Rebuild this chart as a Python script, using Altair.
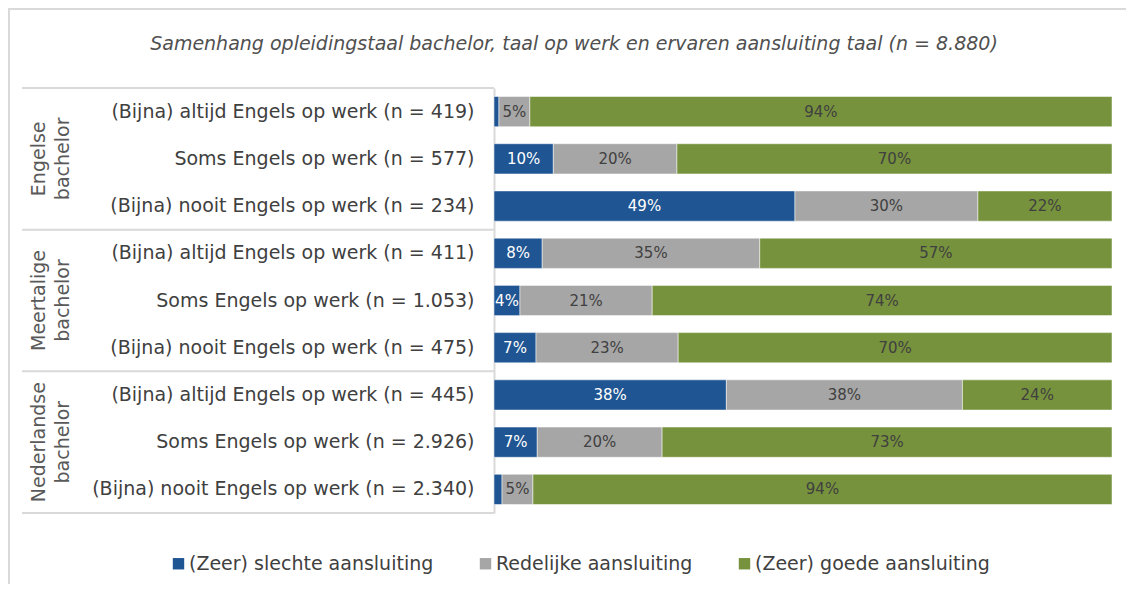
import altair as alt
import pandas as pd

title_text = "Samenhang opleidingstaal bachelor, taal op werk en ervaren aansluiting taal (n = 8.880)"

groups = ["Engelse\nbachelor", "Meertalige\nbachelor", "Nederlandse\nbachelor"]
rows = [
    "(Bijna) altijd Engels op werk (n = 419)",
    "Soms Engels op werk (n = 577)",
    "(Bijna) nooit Engels op werk (n = 234)",
    "(Bijna) altijd Engels op werk (n = 411)",
    "Soms Engels op werk (n = 1.053)",
    "(Bijna) nooit Engels op werk (n = 475)",
    "(Bijna) altijd Engels op werk (n = 445)",
    "Soms Engels op werk (n = 2.926)",
    "(Bijna) nooit Engels op werk (n = 2.340)",
]
categories = ["(Zeer) slechte aansluiting", "Redelijke aansluiting", "(Zeer) goede aansluiting"]
colors = ["#1f5592", "#a6a6a6", "#76923c"]

slecht = [0.8, 9.6, 48.7, 7.8, 4.2, 6.8, 37.6, 7.0, 1.3]
redelijk = [5.0, 20.0, 29.6, 35.2, 21.4, 23.0, 38.2, 20.2, 5.0]
goed = [94.2, 70.4, 21.7, 57.0, 74.4, 70.2, 24.2, 72.8, 93.7]

FONT = "DejaVu Sans"
TXT = "#404040"
LINE = "#d9d9d9"

W, H = 618, 425
PAD_L, PAD_T, PAD_R, PAD_B = 486, 80, 14, 71

recs = []
for i, r in enumerate(rows):
    for k, (c, vals) in enumerate(zip(categories, [slecht, redelijk, goed])):
        recs.append({"row": r, "category": c, "order": k, "value": vals[i]})
df = pd.DataFrame(recs)

ybar = alt.Y("row:N", sort=rows,
             scale=alt.Scale(paddingInner=0.36, paddingOuter=0.18),
             axis=alt.Axis(title=None, labelFontSize=19, labelFont=FONT, labelColor=TXT,
                           labelPadding=20, ticks=False, domainColor=LINE, domainWidth=2,
                           labelLimit=600, grid=False))

bars = alt.Chart(df).mark_bar(stroke="white", strokeWidth=0.5).encode(
    x=alt.X("value:Q", stack="zero", scale=alt.Scale(domain=[0, 100]), axis=None),
    y=ybar,
    color=alt.Color("category:N", sort=categories,
                    scale=alt.Scale(domain=categories, range=colors),
                    legend=alt.Legend(title=None, orient="none", direction="horizontal",
                                      legendX=-325, legendY=466,
                                      labelFont=FONT, labelFontSize=19, labelColor=TXT,
                                      labelLimit=600,
                                      symbolType="square", symbolSize=130,
                                      symbolStrokeWidth=0, labelOffset=1,
                                      columnPadding=42)),
    order=alt.Order("order:Q"),
)

labels = alt.Chart(df).transform_stack(
    stack="value", groupby=["row"], as_=["x0", "x1"],
    sort=[alt.SortField("order", order="ascending")]
).transform_calculate(
    mid="(datum.x0 + datum.x1) / 2",
    label="format(datum.value, '.0f') + '%'"
).transform_filter("datum.value >= 2").mark_text(
    font=FONT, fontSize=15, baseline="middle", align="center"
).encode(
    x=alt.X("mid:Q", scale=alt.Scale(domain=[0, 100]), axis=None),
    y=alt.Y("row:N", sort=rows),
    text="label:N",
    color=alt.condition(alt.datum.order == 0, alt.value("white"), alt.value(TXT)),
)

main = alt.layer(bars, labels)

# group separators and group labels on a quantitative row-index scale
sep_df = pd.DataFrame({"pos": [0, 3, 6, 9]})
grp_df = pd.DataFrame({"group": groups, "pos": [1.5, 4.5, 7.5]})
yq = alt.Scale(domain=[0, 9], reverse=True, nice=False, zero=False)

seps = alt.Chart(sep_df).mark_rule(color=LINE, strokeWidth=2).encode(
    y=alt.Y("pos:Q", scale=yq, axis=None),
    x=alt.value(-472), x2=alt.value(0),
)
grp = alt.Chart(grp_df).mark_text(
    font=FONT, fontSize=19, color="#595959", angle=270, lineBreak="\n",
    align="center", baseline="middle", lineHeight=24
).encode(
    y=alt.Y("pos:Q", scale=yq, axis=None),
    x=alt.value(-455),
    text="group:N",
)

one = pd.DataFrame({"t": [title_text]})
title = alt.Chart(one).mark_text(
    font=FONT, fontSize=19, fontStyle="italic", color="#505050",
    align="center", baseline="middle"
).encode(text="t:N", x=alt.value(80), y=alt.value(-44))

frame_left = alt.Chart(one).mark_rule(color=LINE, strokeWidth=2).encode(
    x=alt.value(-485), y=alt.value(-79), y2=alt.value(H + PAD_B))
frame_top = alt.Chart(one).mark_rule(color=LINE, strokeWidth=2).encode(
    x=alt.value(-486), x2=alt.value(W + PAD_R), y=alt.value(-79))

chart = alt.layer(main, seps, grp, title, frame_left, frame_top).resolve_scale(
    y="independent"
).properties(
    width=W, height=H,
    padding={"left": PAD_L, "top": PAD_T, "right": PAD_R, "bottom": PAD_B},
    autosize=alt.AutoSizeParams(type="none"),
    background="white",
).configure_view(strokeWidth=0)

chart.save("out.html", embed_options={"renderer": "svg", "actions": False})
